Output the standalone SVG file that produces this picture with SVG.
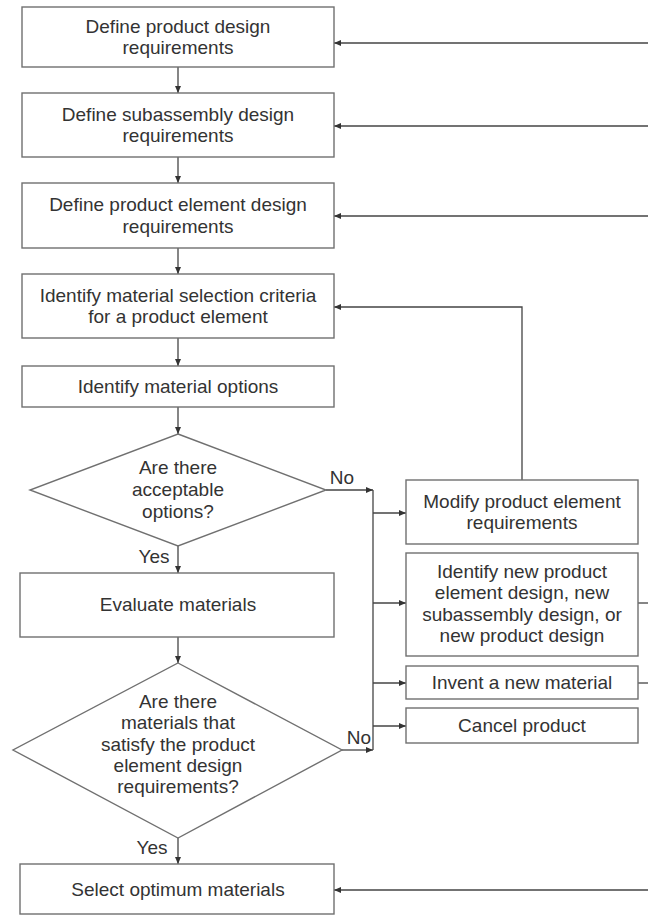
<svg xmlns="http://www.w3.org/2000/svg" width="648" height="916" viewBox="0 0 648 916">
<defs>
<marker id="ah" markerWidth="8" markerHeight="6" refX="7" refY="3" orient="auto" markerUnits="userSpaceOnUse">
<path d="M0,0 L7,3 L0,6 Z" fill="#333"/>
</marker>
<style>
.box{fill:#fff;stroke:#707070;stroke-width:1.4}
.t{font-family:"Liberation Sans",Arial,sans-serif;font-size:19px;fill:#333;text-anchor:middle}
.c{fill:none;stroke:#444;stroke-width:1.3}
.a{fill:none;stroke:#444;stroke-width:1.3;marker-end:url(#ah)}
</style>
</defs>
<rect width="648" height="916" fill="#fff"/>
<g id="connectors">
<line class="a" x1="178" y1="67" x2="178" y2="93"/>
<line class="a" x1="178" y1="157" x2="178" y2="183"/>
<line class="a" x1="178" y1="248" x2="178" y2="274"/>
<line class="a" x1="178" y1="338" x2="178" y2="366"/>
<line class="a" x1="178" y1="407" x2="178" y2="434"/>
<line class="a" x1="178" y1="546" x2="178" y2="573"/>
<line class="a" x1="178" y1="637" x2="178" y2="663"/>
<line class="a" x1="178" y1="838" x2="178" y2="864"/>
<line class="a" x1="648" y1="43" x2="334" y2="43"/>
<line class="a" x1="648" y1="126" x2="334" y2="126"/>
<line class="a" x1="648" y1="216" x2="334" y2="216"/>
<line class="a" x1="648" y1="890" x2="334" y2="890"/>
<line class="a" x1="326" y1="490" x2="373" y2="490"/>
<line class="a" x1="342" y1="750" x2="373" y2="750"/>
<line class="c" x1="373" y1="490" x2="373" y2="750"/>
<line class="a" x1="373" y1="513" x2="406" y2="513"/>
<line class="a" x1="373" y1="603" x2="406" y2="603"/>
<line class="a" x1="373" y1="683" x2="406" y2="683"/>
<line class="a" x1="373" y1="726" x2="406" y2="726"/>
<polyline class="a" points="522,480 522,307 334,307"/>
<line class="c" x1="638" y1="603" x2="648" y2="603"/>
<line class="c" x1="638" y1="683" x2="648" y2="683"/>
<text class="t" x="342" y="484">No</text>
<text class="t" x="359" y="744">No</text>
<text class="t" x="154" y="563">Yes</text>
<text class="t" x="152" y="854">Yes</text>
</g>
<g id="n1"><rect class="box" x="22" y="7" width="312" height="60"/><text class="t" x="178" y="33">Define product design</text><text class="t" x="178" y="54">requirements</text></g>
<g id="n2"><rect class="box" x="22" y="93" width="312" height="64"/><text class="t" x="178" y="121">Define subassembly design</text><text class="t" x="178" y="142">requirements</text></g>
<g id="n3"><rect class="box" x="22" y="183" width="312" height="65"/><text class="t" x="178" y="211">Define product element design</text><text class="t" x="178" y="233">requirements</text></g>
<g id="n4"><rect class="box" x="22" y="274" width="312" height="64"/><text class="t" x="178" y="302">Identify material selection criteria</text><text class="t" x="178" y="323">for a product element</text></g>
<g id="n5"><rect class="box" x="22" y="366" width="312" height="41"/><text class="t" x="178" y="393">Identify material options</text></g>
<g id="d1"><polygon class="box" points="178,434 326,490 178,546 30,490"/><text class="t" x="178" y="474">Are there</text><text class="t" x="178" y="496">acceptable</text><text class="t" x="178" y="518">options?</text></g>
<g id="n6"><rect class="box" x="20" y="573" width="314" height="64"/><text class="t" x="178" y="611">Evaluate materials</text></g>
<g id="d2"><polygon class="box" points="178,663 342,750 178,838 13,750"/><text class="t" x="178" y="708">Are there</text><text class="t" x="178" y="729">materials that</text><text class="t" x="178" y="751">satisfy the product</text><text class="t" x="178" y="772">element design</text><text class="t" x="178" y="793">requirements?</text></g>
<g id="n7"><rect class="box" x="20" y="864" width="314" height="50"/><text class="t" x="178" y="896">Select optimum materials</text></g>
<g id="r1"><rect class="box" x="406" y="480" width="232" height="64"/><text class="t" x="522" y="508">Modify product element</text><text class="t" x="522" y="529">requirements</text></g>
<g id="r2"><rect class="box" x="406" y="553" width="232" height="103"/><text class="t" x="522" y="578">Identify new product</text><text class="t" x="522" y="599">element design, new</text><text class="t" x="522" y="621">subassembly design, or</text><text class="t" x="522" y="642">new product design</text></g>
<g id="r3"><rect class="box" x="406" y="666" width="232" height="33"/><text class="t" x="522" y="689">Invent a new material</text></g>
<g id="r4"><rect class="box" x="406" y="708" width="232" height="35"/><text class="t" x="522" y="732">Cancel product</text></g>
</svg>
